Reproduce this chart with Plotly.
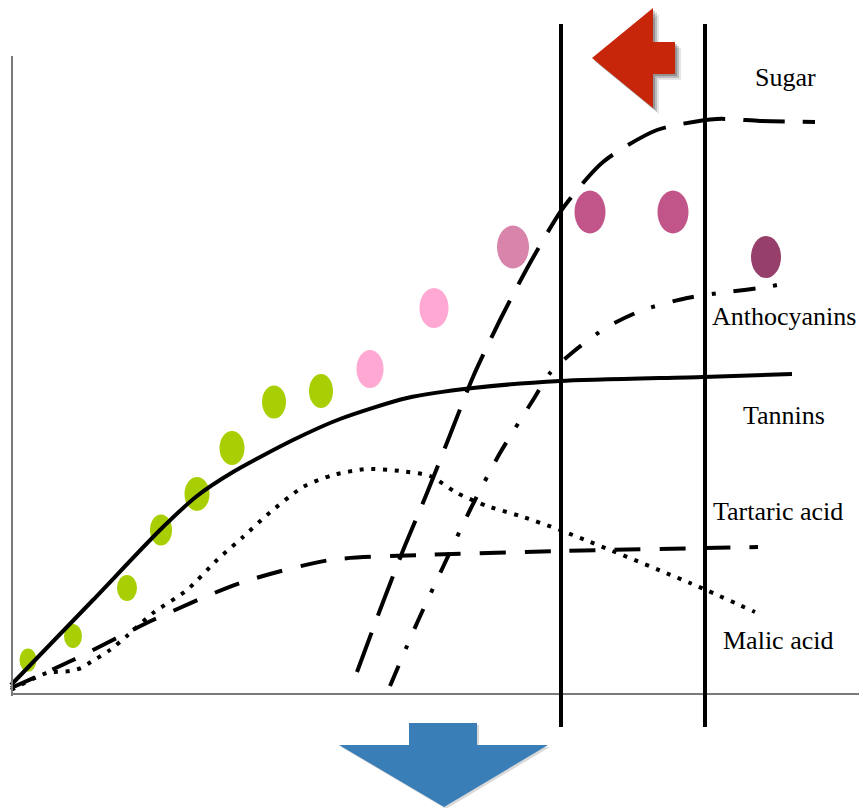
import plotly.graph_objects as go

# ---- ripening curves (x = time along the season, y = relative level) ----
tannin_x = [0, 82, 149, 186, 222, 282, 329, 396, 462, 549, 692, 781]
tannin_y = [9, 94, 164, 198, 222, 254, 275, 296, 306, 313, 317, 320]

tartaric_x = [0, 62, 142, 229, 319, 412, 552, 747]
tartaric_y = [6, 34, 74, 111, 134, 139, 143, 147]

malic_x = [0, 36, 59, 70, 80, 99, 117, 142, 176, 206, 232, 256, 292, 322, 356,
           389, 419, 446, 476, 509, 549, 679, 744]
malic_y = [4, 21, 23, 26, 32, 44, 59, 81, 104, 134, 157, 179, 207, 219, 225,
           223, 218, 201, 188, 178, 164, 111, 82]

sugar_x = [346, 369, 391, 416, 439, 462, 489, 519, 552, 592, 646, 706, 749, 804]
sugar_y = [22, 84, 141, 201, 259, 317, 374, 431, 486, 532, 564, 575, 573, 572]

antho_x = [379, 406, 432, 459, 489, 522, 539, 562, 596, 632, 676, 716, 756, 779]
antho_y = [8, 71, 127, 184, 241, 294, 321, 342, 367, 384, 396, 402, 407, 412]

# ---- berry colour stages ----
berry_x = [17, 62, 116, 150, 186, 221, 263, 310, 359, 423, 502, 579, 662, 755]
berry_y = [34, 58, 106, 164, 200, 246, 292, 303, 325, 386, 447, 482, 482, 437]
berry_stage = ["green"] * 8 + ["pink"] * 2 + ["rose", "magenta", "magenta", "purple"]

# ---- harvest window ----
window_x = [550, 694]

# ---- curve labels ----
label_text = ["Sugar", "Anthocyanins", "Tannins", "Tartaric acid", "Malic acid"]
label_x = [774, 773, 773, 767, 767]
label_y = [617, 378, 279, 183, 54]

# styling
stage_colors = {"green": "#A8CF04", "pink": "#FFA8D3", "rose": "#D884AB",
                "magenta": "#C1558A", "purple": "#963F6A"}
berry_w = [17, 18, 20, 22, 25, 25, 24, 24, 27, 29, 32, 31, 31, 30]
berry_h = [23, 24, 26, 31, 34, 34, 33, 34, 38, 40, 43, 43, 43, 42]

X0, Y0 = 11, 694  # pixel position of the origin


def px(x, y):
    """Page pixel -> axis units (used for decorative arrows only)."""
    return x - X0, Y0 - y


def poly_path(points):
    pts = [px(a, b) for a, b in points]
    return "M " + " L ".join(f"{a},{b}" for a, b in pts) + " Z"


fig = go.Figure()

curves = [
    (tannin_x, tannin_y, None),
    (tartaric_x, tartaric_y, "26px,19px"),
    (malic_x, malic_y, "4px,7.7px"),
    (sugar_x, sugar_y, "42px,18px"),
    (antho_x, antho_y, "22px,18px,4px,18px"),
]
for xs, ys, dash in curves:
    line = dict(color="black", width=4, shape="spline", smoothing=0.7)
    if dash:
        line["dash"] = dash
    fig.add_trace(go.Scatter(x=xs, y=ys, mode="lines", line=line,
                             hoverinfo="skip"))

shapes = []

# berries as ellipses
for cx, cy, st, w, h in zip(berry_x, berry_y, berry_stage, berry_w, berry_h):
    shapes.append(dict(type="circle", xref="x", yref="y", layer="below",
                       x0=cx - w / 2, x1=cx + w / 2, y0=cy - h / 2, y1=cy + h / 2,
                       fillcolor=stage_colors[st], line=dict(width=0)))

# axes
shapes.append(dict(type="line", xref="x", yref="y", x0=1, x1=1, y0=-2, y1=638,
                   line=dict(color="#7a7a7a", width=2)))
shapes.append(dict(type="line", xref="x", yref="y", x0=0, x1=848, y0=0, y1=0,
                   line=dict(color="#7a7a7a", width=2)))

# harvest window bars
for wx in window_x:
    shapes.append(dict(type="line", xref="x", yref="y", x0=wx, x1=wx,
                       y0=-33, y1=670, line=dict(color="black", width=4)))

# red arrow (left) with soft shadow
red_pts = [(592, 58), (653, 8), (653, 42), (675, 42), (675, 74), (653, 74), (653, 108)]
for off, alpha in [(6, 0.10), (4, 0.18), (2, 0.22)]:
    shadow = [(a + off, b + off) for a, b in red_pts]
    shapes.append(dict(type="path", xref="x", yref="y", path=poly_path(shadow),
                       fillcolor=f"rgba(0,0,0,{alpha})", line=dict(width=0)))
shapes.append(dict(type="path", xref="x", yref="y", path=poly_path(red_pts),
                   fillcolor="#C8260A", line=dict(width=0)))

# blue arrow (down)
blue_pts = [(409, 723), (477, 723), (477, 745), (548, 745), (444, 807),
            (339, 745), (409, 745)]
bshadow = [(a + 2, b + 2) for a, b in blue_pts]
shapes.append(dict(type="path", xref="x", yref="y", path=poly_path(bshadow),
                   fillcolor="rgba(0,0,0,0.15)", line=dict(width=0)))
shapes.append(dict(type="path", xref="x", yref="y", path=poly_path(blue_pts),
                   fillcolor="#3A7EB7", line=dict(width=0)))

annotations = [
    dict(x=x, y=y, xref="x", yref="y", text=t, showarrow=False,
         xanchor="center", yanchor="middle",
         font=dict(family="Liberation Serif, Times New Roman, serif",
                   size=26, color="black"))
    for t, x, y in zip(label_text, label_x, label_y)
]

fig.update_layout(
    width=859, height=808,
    margin=dict(l=0, r=0, t=0, b=0),
    paper_bgcolor="white", plot_bgcolor="white",
    showlegend=False,
    xaxis=dict(range=[-X0, 859 - X0], visible=False, fixedrange=True),
    yaxis=dict(range=[Y0 - 808, Y0], visible=False, fixedrange=True),
    shapes=shapes,
    annotations=annotations,
)

fig.write_html("out.html", config={"displayModeBar": False})
